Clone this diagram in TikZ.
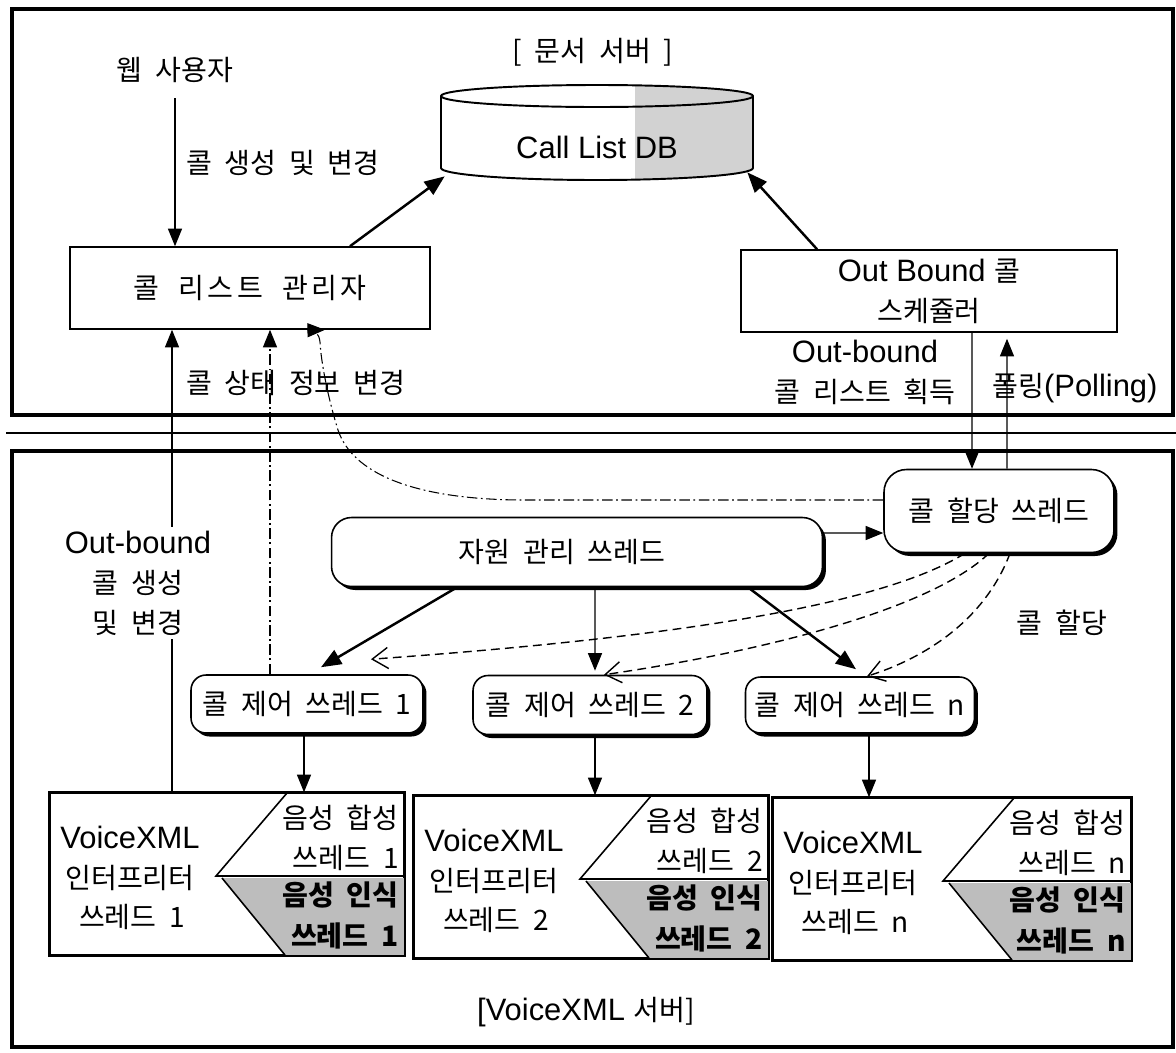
\documentclass[tikz,border=0pt]{standalone}
\usepackage{fontspec}
\setmainfont[WordSpace=2]{Noto Sans CJK KR}
\newfontfamily\lat[Scale=1.1]{Liberation Sans}
\newfontfamily\krw[LetterSpace=12,WordSpace=2]{Noto Sans CJK KR}
\usetikzlibrary{arrows.meta,shadows}
\tikzset{
  lbl/.style={font=\fontsize{16}{22.7}\selectfont, inner sep=0pt, align=center},
  sq/.style={draw, line width=0.9pt, fill=white, lbl},
  rbox/.style={draw, line width=0.9pt, fill=white, rounded corners=#1, lbl,
    drop shadow={shadow xshift=0.07cm, shadow yshift=-0.07cm, opacity=1, fill=black}},
  outerframe/.style={line width=1.9pt},
  arr/.style={line width=0.6pt, -{Triangle[length=10pt,width=8pt]}},
  arrthick/.style={line width=1.4pt, -{Triangle[length=11.5pt,width=9pt]}},
  dsh/.style={line width=0.8pt, dash pattern=on 5pt off 3pt, -{Straight Barb[length=9pt,width=12pt]}},
  dshdot/.style={line width=0.6pt, dash pattern=on 6pt off 2pt on 1pt off 2pt, -{Triangle[length=10pt,width=8pt]}},
  vxshade/.style={fill=gray!52},
  dbshade/.style={fill=gray!35}
}
\newcommand\vxbox[6]{%
\begin{scope}[shift={(#2,#3)}]
  \node[sq, minimum width=#5, minimum height=3.24cm] (#1) at ({#4/2},81) {};
  \fill[vxshade] ({#4-182},85) -- (#4,85) -- (#4,162) -- ({#4-119},162) -- cycle;
  \draw[line width=0.9pt] ({#4-117},0) -- ({#4-188},83) -- (#4,83);
  \draw[line width=0.9pt] ({#4-182},85) -- ({#4-119},162);
  \draw[line width=0.9pt] (#1.north west) rectangle (#1.south east);
  \node[lbl] (#1a) at (80,44) {\lat VoiceXML};
  \node[lbl] (#1b) at (80,85) {인터프리터};
  \node[lbl] (#1c) at (82,124) {쓰레드 #6};
  \node[lbl, anchor=east] (#1d) at ({#4-5},25) {음성 합성};
  \node[lbl, anchor=east] (#1e) at ({#4-5},65) {쓰레드 #6};
  \node[lbl, anchor=east, font=\fontsize{16}{22.7}\selectfont\bfseries] (#1f) at ({#4-5},102) {음성 인식};
  \node[lbl, anchor=east, font=\fontsize{16}{22.7}\selectfont\bfseries] (#1g) at ({#4-5},143) {쓰레드 #6};
\end{scope}}
\begin{document}
\begin{tikzpicture}[x=0.02cm,y=-0.02cm]
\useasboundingbox (0,0) rectangle (1176,1052);
\fill[white] (0,0) rectangle (1176,1052);

% frames
\draw[outerframe] (12,9) rectangle (1173,415);
\draw[line width=0.6pt] (6,433) -- (1176,433);
\draw[outerframe] (12,451) rectangle (1173,1047);

% title
\node[lbl] (t1) at (593,52) {[ 문서 서버 ]};

% cylinder DB
\def\cylpath{(441,96) -- (441,168) arc[start angle=180,end angle=0,x radius=156,y radius=12] -- (753,96) arc[start angle=360,end angle=180,x radius=156,y radius=11] -- cycle}
\fill[white] \cylpath;
\begin{scope}
  \clip \cylpath;
  \fill[dbshade] (635,70) rectangle (760,190);
\end{scope}
\draw[line width=1.1pt] \cylpath;
\draw[line width=1.1pt] (441,96) arc[start angle=180,end angle=0,x radius=156,y radius=11];
\node[minimum width=6.24cm, minimum height=1.9cm, inner sep=0pt] (db) at (597,132.5) {};
\node[lbl] (dbt) at (597,147) {\lat Call List DB};

% upper part
\node[lbl] (web) at (175,70) {웹 사용자};
\node[lbl, anchor=west] (l1) at (186,163) {콜 생성 및 변경};
\node[sq, minimum width=7.2cm, minimum height=1.64cm] (mgr) at (250,288) {\krw 콜 리스트 관리자};
\node[sq, minimum width=7.52cm, minimum height=1.64cm] (obs) at (929,291) {{\lat Out Bound }콜\\스케쥴러};
\node[lbl, anchor=west] (l2) at (186,383) {콜 상태 정보 변경};
\node[lbl] (l3) at (865,372) {{\lat Out-bound}\\콜 리스트 획득};
\node[lbl, anchor=west] (l4) at (992,388) {폴링{\lat (Polling)}};

% lower part
\node[rbox=0.45cm, minimum width=4.6cm, minimum height=1.66cm] (alloc) at (999,511) {콜 할당 쓰레드};
\node[rbox=0.4cm, minimum width=9.82cm, minimum height=1.38cm] (res) at (577,552) {자원 관리 쓰레드\hspace*{0.6cm}};
\node[rbox=0.3cm, minimum width=4.64cm, minimum height=1.16cm] (ctl1) at (307,704) {콜 제어 쓰레드 1};
\node[rbox=0.3cm, minimum width=4.68cm, minimum height=1.18cm] (ctl2) at (590,705) {콜 제어 쓰레드 2};
\node[rbox=0.3cm, minimum width=4.58cm, minimum height=1.12cm] (ctln) at (860,705) {콜 제어 쓰레드 n};
\node[lbl] (l5) at (1062,623) {콜 할당};

\vxbox{vx1}{50}{793}{354}{7.08cm}{1}
\vxbox{vx2}{414}{796}{354}{7.08cm}{2}
\vxbox{vx3}{773}{798}{358}{7.16cm}{n}

\node[lbl] (t2) at (586,1012) {{\lat [VoiceXML }서버]};

% connectors (upper)
\draw[arr] ([yshift=-0.3cm]web.south) -- (web.south |- mgr.north);
\draw[arrthick] ([xshift=2cm]mgr.north) -- ([xshift=0.08cm,yshift=0.08cm]db.south west);
\draw[arrthick] ([xshift=-2.24cm]obs.north) -- ([xshift=-0.12cm,yshift=0.16cm]db.south east);
\draw[arr] ([xshift=0.86cm]obs.south) -- ([xshift=-0.54cm]alloc.north);
\draw[arr] ([xshift=0.16cm]alloc.north) -- ([xshift=1.56cm,yshift=-0.12cm]obs.south);

% connectors (lower)
\draw[arr] ([yshift=0.38cm]res.east) -- ([yshift=-0.44cm]alloc.west);
\draw[arrthick] ([xshift=-2.4cm]res.south) -- ([xshift=0.28cm,yshift=0.14cm]ctl1.north);
\draw[arr] ([xshift=0.36cm]res.south) -- ([xshift=0.1cm,yshift=0.08cm]ctl2.north);
\draw[arrthick] ([xshift=3.42cm]res.south) -- ([xshift=-0.08cm,yshift=0.14cm]ctln.north);

\draw[dsh] ([xshift=-0.68cm]alloc.south) .. controls (890,600) and (710,635) .. ([xshift=1.28cm,yshift=0.3cm]ctl1.north);
\draw[dsh] ([xshift=-0.2cm]alloc.south) .. controls (930,610) and (760,652) .. ([xshift=0.28cm]ctl2.north);
\draw[dsh] ([xshift=0.22cm]alloc.south) .. controls (985,620) and (925,658) .. ([xshift=0.14cm]ctln.north);

\draw[dshdot] ([yshift=0.22cm]alloc.west) -- (520,500) .. controls (410,499) and (352,472) .. (338,430) .. controls (328,398) and (321,362) .. (320,342) .. controls (319,334) and (316,330) .. ([xshift=1.5cm]mgr.south);

\coordinate (p1) at ([xshift=-0.74cm]ctl1.north);
\draw[dshdot] (p1) -- (p1 |- mgr.south);
\coordinate (p2) at ([xshift=-1.1cm]vx1.north);
\draw[arr] (p2) -- (p2 |- mgr.south);
\node[lbl, fill=white, inner sep=2pt] (l6) at (138,583) {{\lat Out-bound}\\콜 생성\\및 변경};

\coordinate (p3) at ([xshift=-0.06cm]ctl1.south);
\draw[arr] (p3) -- (p3 |- vx1.north);
\coordinate (p4) at ([xshift=0.1cm]ctl2.south);
\draw[arr] (p4) -- (p4 |- vx2.north);
\coordinate (p5) at ([xshift=0.18cm]ctln.south);
\draw[arr] (p5) -- (p5 |- vx3.north);
\end{tikzpicture}
\end{document}
